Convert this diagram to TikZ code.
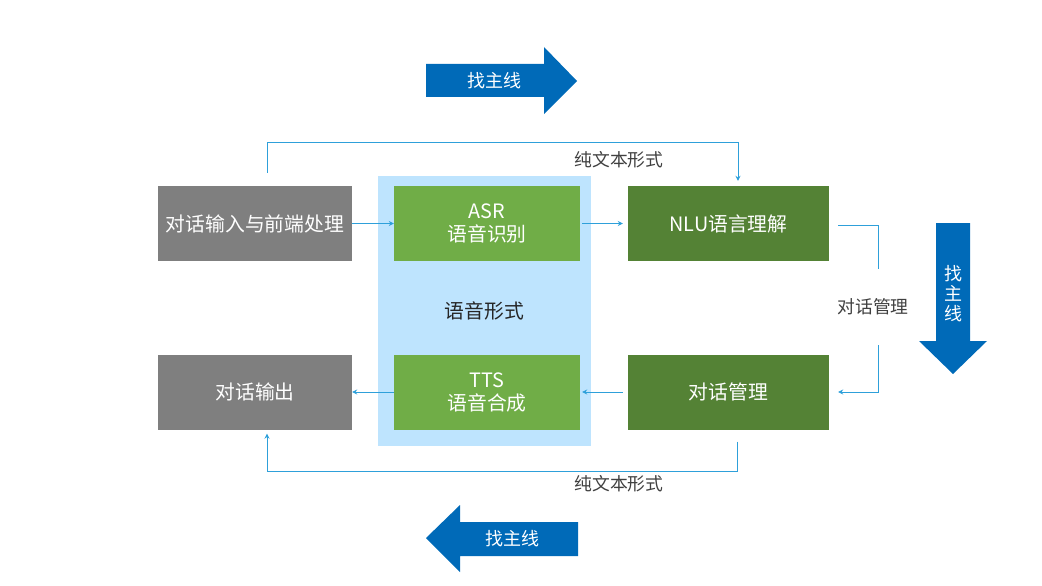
\documentclass[tikz,border=0pt]{standalone}
\usepackage{fontspec}
\setmainfont{Noto Sans CJK SC}
\usepackage{tikz}
\usetikzlibrary{arrows.meta,positioning,calc}
\definecolor{mainblue}{RGB}{0,106,184}
\definecolor{linkblue}{RGB}{46,160,218}
\definecolor{boxgrey}{RGB}{127,127,127}
\definecolor{lightgreen}{RGB}{112,173,71}
\definecolor{darkgreen}{RGB}{84,130,53}
\definecolor{voicebg}{RGB}{190,228,254}
\definecolor{labelgrey}{RGB}{64,64,64}
\tikzset{
  blk/.style={text=white,align=center,inner sep=2pt,minimum height=75pt,
              font=\fontsize{19.8}{23}\selectfont},
  greyblk/.style={blk,fill=boxgrey,minimum width=194pt},
  lgblk/.style={blk,fill=lightgreen,minimum width=186pt},
  dgblk/.style={blk,fill=darkgreen,minimum width=201pt},
  voicebox/.style={fill=voicebg,minimum width=213pt,minimum height=270pt,
                   text=black!85,font=\fontsize{19.8}{23}\selectfont},
  link/.style={-{Stealth[length=5pt,width=5pt]},draw=linkblue,line width=0.9pt},
  lbl/.style={font=\fontsize{17.8}{21}\selectfont,text=labelgrey,inner sep=1pt},
  arrtxt/.style={text=white,font=\fontsize{18}{20}\selectfont,align=center,inner sep=0pt},
}

\begin{document}
\begin{tikzpicture}[x=1pt,y=-1pt]
  \useasboundingbox (0,0) rectangle (1042,586);

  % ---------------- voice area ----------------
  \node[voicebox] (voice) at (484.5,311) {语音形式};

  % ---------------- blocks ----------------
  \node[greyblk] (in)  at (255,223.5)   {对话输入与前端处理};
  \node[lgblk]   (asr) at (487,223.5)   {ASR\\语音识别};
  \node[dgblk]   (nlu) at (728.5,223.5) {NLU语言理解};
  \node[greyblk] (out) at (255,392)     {对话输出};
  \node[lgblk]   (tts) at (487,392)     {TTS\\语音合成};
  \node[dgblk]   (dm)  at (728.5,392)   {对话管理};

  % ---------------- links ----------------
  \draw[link] (in.east) -- (asr.west);
  \draw[link,shorten <=2pt,shorten >=5pt] (asr.east) -- (nlu.west);
  \draw[link,shorten <=5pt,shorten >=2pt] (dm.west) -- (tts.east);
  \draw[link] (tts.west) -- (out.east);

  % text form loops, above and below
  \coordinate (intop) at ([xshift=12pt,yshift=13pt]in.north);
  \draw[link] (intop) -- ++(0,-30) -| ([xshift=9.5pt,yshift=5pt]nlu.north);
  \node[lbl] (txttop) at (619,160) {纯文本形式};

  \coordinate (dmbot) at ([xshift=8.5pt,yshift=-12pt]dm.south);
  \draw[link] (dmbot) -- ++(0,30) -| ([xshift=12pt,yshift=-4pt]out.south);
  \node[lbl] (txtbot) at (619,484) {纯文本形式};

  % nlu -> dialogue management, label breaks the line
  \draw[link] ([xshift=9pt,yshift=-1.5pt]nlu.east) -- ++(40,0)
    |- ([xshift=9pt]dm.east);
  \node[lbl,fill=white,minimum height=76pt] (dmlbl) at (873,307) {对话管理};

  % ---------------- main line arrows ----------------
  \fill[mainblue] (426,64) -- (544,64) -- (544,47) -- (577,81) -- (544,114)
    -- (544,97) -- (426,97) -- cycle;
  \node[arrtxt] (mtop) at (494,81) {找主线};

  \fill[mainblue] (936,223) -- (970,223) -- (970,341) -- (987,341) -- (953,374)
    -- (919,341) -- (936,341) -- cycle;
  \node[arrtxt] (mright) at (953,294) {找\\主\\线};

  \fill[mainblue] (426,538) -- (460,505) -- (460,522) -- (578,522) -- (578,556)
    -- (460,556) -- (460,572) -- cycle;
  \node[arrtxt] (mbot) at (512,539) {找主线};
\end{tikzpicture}
\end{document}
